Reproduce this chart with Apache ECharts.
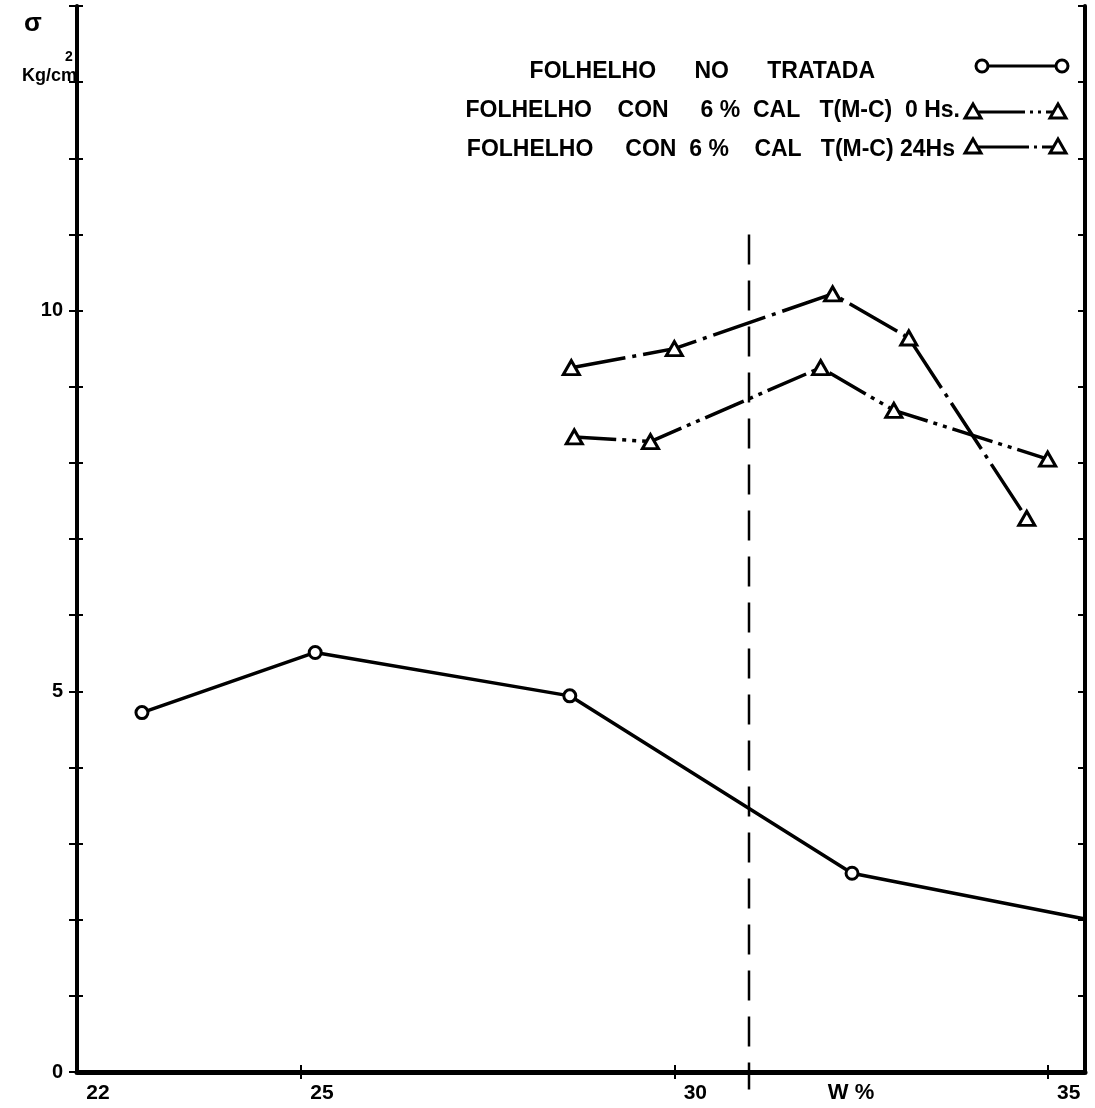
<!DOCTYPE html>
<html>
<head>
<meta charset="utf-8">
<script src="https://cdn.jsdelivr.net/npm/echarts@6/dist/echarts.min.js"></script>
<style>
  html, body { margin: 0; padding: 0; background: #ffffff; }
  #chart { width: 1095px; height: 1108px; }
</style>
</head>
<body>
<div id="chart"></div>
<script>
// Axis ticks and labels
const xLabelValues = [22, 25, 30, 35];
const xTickValues = [25, 30, 35];
const yLabelValues = [0, 5, 10];

// Untreated shale
const untreatedW = [22.87, 25.19, 28.60, 32.38, 35.5];
const untreatedQ = [4.72, 5.51, 4.94, 2.61, 2.01];

// Shale with 6 % lime, 0 h
const lime0hW = [28.66, 29.68, 31.96, 32.94, 35.0];
const lime0hQ = [8.34, 8.28, 9.25, 8.69, 8.05];

// Shale with 6 % lime, 24 h
const lime24hW = [28.62, 30.00, 32.12, 33.14, 34.72];
const lime24hQ = [9.25, 9.50, 10.22, 9.64, 7.27];

// Vertical reference line at w = 31 %
const refW = [31, 31];
const refQ = [11, -0.23];

const seriesNames = [
  'FOLHELHO      NO      TRATADA',
  'FOLHELHO    CON     6 %  CAL   T(M-C)  0 Hs.',
  'FOLHELHO     CON  6 %    CAL   T(M-C) 24Hs'
];

const FONT = "'Liberation Sans', Arial, 'DejaVu Sans', sans-serif";
const INK = '#000000';

const zip = (xs, ys) => xs.map((x, i) => [x, ys[i]]);

const dash0h = [42, 6, 4, 6, 4, 6];
const dash24h = [55, 7, 4, 7];

const untreatedData = zip(untreatedW, untreatedQ).map((p, i, arr) =>
  i === arr.length - 1 ? { value: p, symbol: 'none' } : p);

const chart = echarts.init(document.getElementById('chart'), null, { renderer: 'canvas' });

const tri = (cx, cy) => ({
  type: 'polygon',
  shape: { points: [[cx, cy - 8], [cx + 8, cy + 6], [cx - 8, cy + 6]] },
  style: { fill: '#fff', stroke: INK, lineWidth: 3 },
  z: 10
});
const circ = (cx, cy) => ({
  type: 'circle',
  shape: { cx: cx, cy: cy, r: 6 },
  style: { fill: '#fff', stroke: INK, lineWidth: 3 },
  z: 10
});
const seg = (x1, x2, y, dash) => ({
  type: 'line',
  shape: { x1: x1, y1: y, x2: x2, y2: y },
  style: { stroke: INK, lineWidth: 3, lineDash: dash || null },
  z: 9
});
const txt = (text, x, y, size, align) => ({
  type: 'text',
  style: {
    text: text, x: x, y: y, fill: INK,
    font: 'bold ' + size + 'px ' + FONT,
    align: align, verticalAlign: 'middle'
  }
});

const option = {
  backgroundColor: '#ffffff',
  animation: false,
  grid: { left: 77, right: 10, top: 6, bottom: 36 },
  xAxis: [
    {
      type: 'value', position: 'bottom', min: 22, max: 35.5,
      axisLine: { show: true, lineStyle: { color: INK, width: 4 } },
      axisTick: { show: true, inside: false, length: 7, customValues: xTickValues,
                  lineStyle: { color: INK, width: 2 } },
      axisLabel: { show: true, customValues: xLabelValues, margin: 11, padding: [0, 0, 0, 42],
                   color: INK, fontFamily: FONT, fontWeight: 'bold', fontSize: 21 },
      splitLine: { show: false }
    },
    {
      type: 'value', position: 'bottom', min: 22, max: 35.5,
      axisLine: { show: false },
      axisTick: { show: true, inside: true, length: 7, customValues: xTickValues,
                  lineStyle: { color: INK, width: 2 } },
      axisLabel: { show: false },
      splitLine: { show: false }
    },
    {
      type: 'value', position: 'top', min: 22, max: 35.5,
      axisLine: { show: true, lineStyle: { color: INK, width: 5 } },
      axisTick: { show: false }, axisLabel: { show: false }, splitLine: { show: false }
    }
  ],
  yAxis: [
    {
      type: 'value', position: 'left', min: 0, max: 14, interval: 1,
      axisLine: { show: true, lineStyle: { color: INK, width: 4 } },
      axisTick: { show: true, inside: false, length: 8, lineStyle: { color: INK, width: 2 } },
      axisLabel: { show: true, customValues: yLabelValues, margin: 14, padding: [0, 0, 12, 0],
                   color: INK, fontFamily: FONT, fontWeight: 'bold', fontSize: 20 },
      splitLine: { show: false }
    },
    {
      type: 'value', position: 'left', min: 0, max: 14, interval: 1,
      axisLine: { show: false },
      axisTick: { show: true, inside: true, length: 6, lineStyle: { color: INK, width: 2 } },
      axisLabel: { show: false }, splitLine: { show: false }
    },
    {
      type: 'value', position: 'right', min: 0, max: 14, interval: 1,
      axisLine: { show: true, lineStyle: { color: INK, width: 4 } },
      axisTick: { show: true, inside: true, length: 7, lineStyle: { color: INK, width: 2 } },
      axisLabel: { show: false }, splitLine: { show: false }
    }
  ],
  series: [
    {
      name: 'ref', type: 'line', data: zip(refW, refQ), symbol: 'none', clip: false,
      lineStyle: { color: INK, width: 2.5, type: [30, 16] }, z: 1, silent: true
    },
    {
      name: seriesNames[0], type: 'line', data: untreatedData,
      symbol: 'circle', symbolSize: 12,
      itemStyle: { color: '#ffffff', borderColor: INK, borderWidth: 3 },
      lineStyle: { color: INK, width: 3.5 }, z: 3
    },
    {
      name: seriesNames[1], type: 'line', data: zip(lime0hW, lime0hQ),
      symbol: 'triangle', symbolSize: [16, 14],
      itemStyle: { color: '#ffffff', borderColor: INK, borderWidth: 3 },
      lineStyle: { color: INK, width: 3.5, type: dash0h }, z: 3
    },
    {
      name: seriesNames[2], type: 'line', data: zip(lime24hW, lime24hQ),
      symbol: 'triangle', symbolSize: [16, 14],
      itemStyle: { color: '#ffffff', borderColor: INK, borderWidth: 3 },
      lineStyle: { color: INK, width: 3.5, type: dash24h }, z: 3
    }
  ],
  graphic: [
    // key
    txt(seriesNames[0], 875, 72, 23, 'right'),
    seg(982, 1062, 66), circ(982, 66), circ(1062, 66),
    txt(seriesNames[1], 960, 111, 23, 'right'),
    seg(973, 1058, 112, [52, 5, 3, 5, 3, 5]), tri(973, 112), tri(1058, 112),
    txt(seriesNames[2], 955, 150, 23, 'right'),
    seg(973, 1058, 147, [56, 5, 3, 5]), tri(973, 147), tri(1058, 147),
    // axis titles
    txt('σ', 33, 24, 26, 'center'),
    txt('Kg/cm', 77, 76, 18, 'right'),
    txt('2', 69, 57, 14, 'center'),
    txt('W %', 851, 1093, 22, 'center')
  ]
};

chart.setOption(option);
</script>
</body>
</html>
